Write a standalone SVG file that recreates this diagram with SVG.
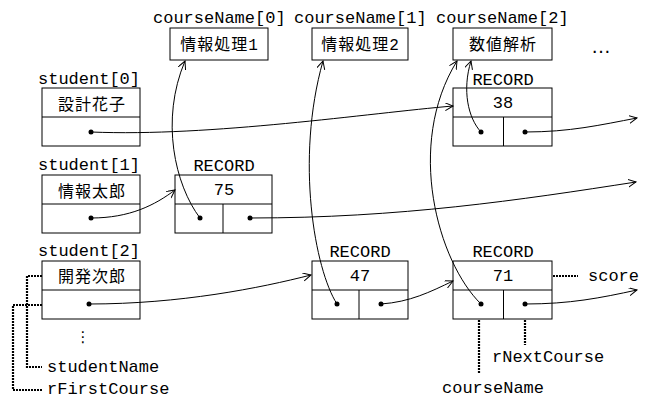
<svg xmlns="http://www.w3.org/2000/svg" width="648" height="400" viewBox="0 0 648 400">
  <defs>
    <style>
      .box { fill: #fff; stroke: #000; stroke-width: 1; }
      .sep { stroke: #000; stroke-width: 1; fill: none; }
      .mono { font-family: "Liberation Mono", "Courier New", monospace; font-size: 17px; fill: #000; }
      .jp { font-family: "Noto Sans CJK JP", "Noto Sans CJK SC", sans-serif; font-size: 16px; fill: #000; letter-spacing: 1px; }
      .mid { text-anchor: middle; }
      .link { fill: none; stroke: #000; stroke-width: 1; marker-end: url(#arrow); }
      .dot { fill: #000; }
      .lead { fill: none; stroke: #000; stroke-width: 2.2; stroke-dasharray: 2 1; }
    </style>
    <marker id="arrow" markerWidth="10" markerHeight="10" refX="8" refY="4" orient="auto" markerUnits="userSpaceOnUse">
      <path d="M0,0 L8,4 L0,8" fill="none" stroke="#000" stroke-width="1"/>
    </marker>
  </defs>
  <rect width="648" height="400" fill="#fff"/>

  <!-- course name strings -->
  <g id="courseName0">
    <text class="mono" x="153" y="23">courseName[0]</text>
    <rect class="box" x="170" y="28" width="98" height="32"/>
    <text class="jp mid" x="219" y="50">情報処理<tspan class="mono" style="font-size:16px;letter-spacing:0">1</tspan></text>
  </g>
  <g id="courseName1">
    <text class="mono" x="294" y="23">courseName[1]</text>
    <rect class="box" x="312" y="28" width="96" height="32"/>
    <text class="jp mid" x="360" y="50">情報処理<tspan class="mono" style="font-size:16px;letter-spacing:0">2</tspan></text>
  </g>
  <g id="courseName2">
    <text class="mono" x="436" y="23">courseName[2]</text>
    <rect class="box" x="453" y="28" width="99" height="32"/>
    <text class="jp mid" x="503" y="50">数値解析</text>
  </g>
  <g id="more">
    <text x="591" y="53" style="font-family:'Liberation Sans',Arial,sans-serif;font-size:20px">…</text>
  </g>

  <!-- student records -->
  <g id="student0">
    <text class="mono" x="38" y="84">student[0]</text>
    <rect class="box" x="42" y="88" width="98" height="58"/>
    <line class="sep" x1="42" y1="117" x2="140" y2="117"/>
    <text class="jp mid" x="92" y="110">設計花子</text>
    <circle class="dot" cx="91" cy="132" r="2.5"/>
  </g>
  <g id="student1">
    <text class="mono" x="38" y="170">student[1]</text>
    <rect class="box" x="42" y="175" width="98" height="58"/>
    <line class="sep" x1="42" y1="204" x2="140" y2="204"/>
    <text class="jp mid" x="92" y="197">情報太郎</text>
    <circle class="dot" cx="91" cy="218" r="2.5"/>
  </g>
  <g id="student2">
    <text class="mono" x="38" y="256">student[2]</text>
    <rect class="box" x="42" y="261" width="98" height="58"/>
    <line class="sep" x1="42" y1="290" x2="140" y2="290"/>
    <text class="jp mid" x="92" y="282">開発次郎</text>
    <circle class="dot" cx="89" cy="304" r="2.5"/>
    <text x="83" y="342" class="mid" style="font-family:'DejaVu Sans',sans-serif;font-size:15px">⋮</text>
  </g>

  <!-- course records -->
  <g id="record38">
    <text class="mono mid" x="503" y="85">RECORD</text>
    <rect class="box" x="453" y="88" width="99" height="58"/>
    <line class="sep" x1="453" y1="117" x2="552" y2="117"/>
    <line class="sep" x1="503.5" y1="117" x2="503.5" y2="146"/>
    <text class="mono mid" x="503" y="108">38</text>
    <circle class="dot" cx="481" cy="132" r="2.5"/>
    <circle class="dot" cx="525" cy="132" r="2.5"/>
  </g>
  <g id="record75">
    <text class="mono mid" x="224" y="171">RECORD</text>
    <rect class="box" x="175" y="175" width="97" height="58"/>
    <line class="sep" x1="175" y1="204" x2="272" y2="204"/>
    <line class="sep" x1="223" y1="204" x2="223" y2="233"/>
    <text class="mono mid" x="224" y="195">75</text>
    <circle class="dot" cx="200" cy="218" r="2.5"/>
    <circle class="dot" cx="250" cy="218" r="2.5"/>
  </g>
  <g id="record47">
    <text class="mono mid" x="360" y="257">RECORD</text>
    <rect class="box" x="312" y="261" width="96" height="58"/>
    <line class="sep" x1="312" y1="290" x2="408" y2="290"/>
    <line class="sep" x1="359" y1="290" x2="359" y2="319"/>
    <text class="mono mid" x="360" y="281">47</text>
    <circle class="dot" cx="337" cy="304" r="2.5"/>
    <circle class="dot" cx="381" cy="304" r="2.5"/>
  </g>
  <g id="record71">
    <text class="mono mid" x="503" y="257">RECORD</text>
    <rect class="box" x="453" y="261" width="99" height="58"/>
    <line class="sep" x1="453" y1="290" x2="552" y2="290"/>
    <line class="sep" x1="503.5" y1="290" x2="503.5" y2="319"/>
    <text class="mono mid" x="503" y="281">71</text>
    <circle class="dot" cx="481" cy="304" r="2.5"/>
    <circle class="dot" cx="525" cy="304" r="2.5"/>
  </g>

  <!-- field annotations -->
  <g id="annotations">
    <path class="lead" d="M553,276 H578"/>
    <text class="mono" x="588" y="281">score</text>
    <path class="lead" d="M525,320 V345"/>
    <text class="mono" x="492" y="362">rNextCourse</text>
    <path class="lead" d="M479,320 V373"/>
    <text class="mono" x="442" y="393">courseName</text>
    <path class="lead" d="M42,276 H27 V367 H42"/>
    <text class="mono" x="47" y="372">studentName</text>
    <path class="lead" d="M42,305 H13 V390 H42"/>
    <text class="mono" x="47" y="394">rFirstCourse</text>
  </g>

  <!-- pointers -->
  <g id="connectors">
    <path class="link" d="M91,132 C210,137 370,113 453,106"/>
    <path class="link" d="M91,218 C130,218 155,205 175,190"/>
    <path class="link" d="M89,304 C180,304 260,288 311,275"/>
    <path class="link" d="M381,304 C410,302 430,292 453,281"/>
    <path class="link" d="M525,304 C570,304 600,298 637,290"/>
    <path class="link" d="M525,132 C570,132 600,125 637,118"/>
    <path class="link" d="M250,218 C400,218 520,200 636,182"/>
    <path class="link" d="M200,218 C175,185 160,120 185,61"/>
    <path class="link" d="M337,304 C315,270 295,160 323,61"/>
    <path class="link" d="M481,304 C438,262 405,145 457,61"/>
    <path class="link" d="M481,132 C468,118 462,90 471,61"/>
  </g>
</svg>
